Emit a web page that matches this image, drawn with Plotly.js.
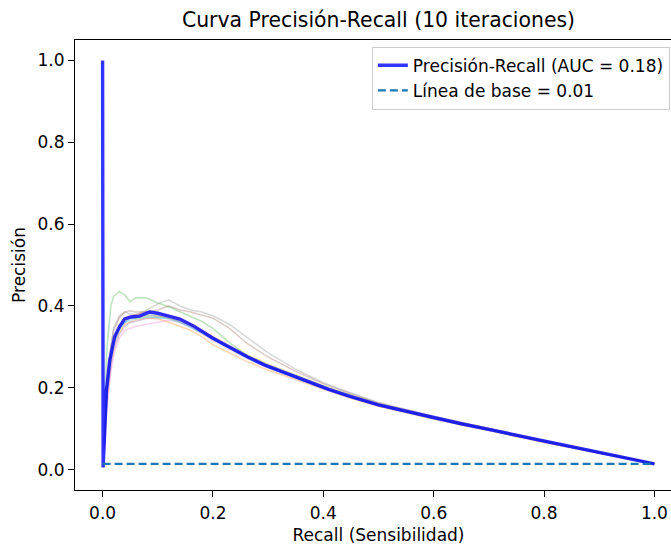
<!DOCTYPE html>
<html>
<head>
<meta charset="utf-8">
<script src="https://cdn.plot.ly/plotly-3.0.1.min.js"></script>
<style>
html, body { margin: 0; padding: 0; overflow: hidden; background: #fff; }
#chart { width: 682px; height: 545px; }
</style>
</head>
<body>
<div id="chart"></div>
<script>
// ---- Data ----
const meanRecall = [0, 0.001, 0.004, 0.007, 0.013, 0.022, 0.031, 0.04, 0.052, 0.067, 0.085, 0.10, 0.12, 0.14, 0.166, 0.20, 0.233, 0.263, 0.293, 0.323, 0.353, 0.383, 0.41, 0.45, 0.5, 0.55, 0.6, 0.65, 0.7, 0.75, 0.8, 0.85, 0.9, 0.95, 1.0];
const meanPrecision = [1.0, 0.005, 0.1, 0.195, 0.268, 0.325, 0.35, 0.368, 0.373, 0.375, 0.385, 0.382, 0.375, 0.368, 0.35, 0.321, 0.297, 0.275, 0.256, 0.24, 0.224, 0.21, 0.196, 0.178, 0.158, 0.142, 0.126, 0.112, 0.098, 0.084, 0.068, 0.055, 0.041, 0.028, 0.014];

const iterRecall = [0.003, 0.008, 0.015, 0.02, 0.03, 0.04, 0.05, 0.06, 0.08, 0.10, 0.12, 0.14, 0.16, 0.18, 0.20, 0.23, 0.26, 0.30, 0.35, 0.40, 0.45, 0.50, 0.60, 0.70, 0.80, 0.90, 1.0];
const iter0 = [0.06,0.19,0.27,0.31,0.345,0.36,0.37,0.372,0.378,0.376,0.372,0.362,0.35,0.335,0.318,0.297,0.276,0.25,0.225,0.199,0.177,0.157,0.125,0.097,0.068,0.041,0.014];
const iter1 = [0.05,0.18,0.26,0.30,0.335,0.355,0.36,0.365,0.37,0.368,0.36,0.35,0.34,0.325,0.305,0.285,0.265,0.243,0.22,0.196,0.174,0.155,0.123,0.095,0.066,0.040,0.014];
const iter2 = [0.15,0.30,0.40,0.423,0.435,0.427,0.41,0.42,0.419,0.407,0.398,0.386,0.375,0.362,0.345,0.31,0.28,0.255,0.228,0.202,0.18,0.16,0.127,0.099,0.069,0.042,0.014];
const iter3 = [0.07,0.20,0.28,0.32,0.35,0.37,0.375,0.378,0.385,0.383,0.376,0.37,0.356,0.34,0.322,0.30,0.278,0.253,0.226,0.20,0.178,0.158,0.126,0.098,0.068,0.041,0.014];
const iter4 = [0.05,0.17,0.25,0.29,0.33,0.35,0.36,0.362,0.37,0.372,0.37,0.362,0.35,0.336,0.32,0.298,0.277,0.251,0.225,0.199,0.177,0.157,0.125,0.097,0.067,0.041,0.014];
const iter5 = [0.08,0.22,0.30,0.34,0.37,0.385,0.388,0.385,0.386,0.39,0.40,0.39,0.385,0.378,0.37,0.345,0.31,0.275,0.24,0.21,0.185,0.162,0.129,0.1,0.07,0.043,0.014];
const iter6 = [0.04,0.15,0.24,0.28,0.32,0.34,0.345,0.35,0.355,0.36,0.365,0.36,0.348,0.332,0.315,0.294,0.273,0.248,0.222,0.197,0.175,0.156,0.124,0.096,0.067,0.040,0.014];
const iter7 = [0.07,0.21,0.30,0.345,0.375,0.385,0.38,0.378,0.39,0.405,0.415,0.40,0.39,0.385,0.376,0.355,0.325,0.285,0.245,0.212,0.187,0.164,0.13,0.101,0.071,0.044,0.014];
const iter8 = [0.06,0.20,0.28,0.315,0.345,0.365,0.37,0.37,0.375,0.375,0.37,0.365,0.355,0.34,0.325,0.302,0.282,0.258,0.232,0.205,0.182,0.161,0.128,0.1,0.07,0.042,0.014];
const iter9 = [0.06,0.19,0.27,0.31,0.34,0.36,0.365,0.368,0.373,0.372,0.368,0.36,0.348,0.334,0.318,0.296,0.275,0.25,0.224,0.198,0.176,0.156,0.124,0.096,0.067,0.040,0.014];
const iterations = [iter0, iter1, iter2, iter3, iter4, iter5, iter6, iter7, iter8, iter9];

const baselineX = [0, 1];
const baselineY = [0.014, 0.014];

const tickVals = [0, 0.2, 0.4, 0.6, 0.8, 1.0];
const tickText = ["0.0", "0.2", "0.4", "0.6", "0.8", "1.0"];

const titleText = "Curva Precisión-Recall (10 iteraciones)";
const xTitle = "Recall (Sensibilidad)";
const yTitle = "Precisión";
const meanName = "Precisión-Recall (AUC = 0.18)";
const baseName = "Línea de base = 0.01";

const iterColors = ["#1f77b4", "#ff7f0e", "#2ca02c", "#d62728", "#9467bd", "#8c564b", "#e377c2", "#7f7f7f", "#bcbd22", "#17becf"];

// ---- Traces ----
const traces = iterations.map((vals, i) => ({
  x: iterRecall, y: vals, type: "scatter", mode: "lines",
  line: { color: iterColors[i], width: 1.6 }, opacity: 0.3,
  showlegend: false, hoverinfo: "skip"
}));
traces.push({
  x: meanRecall, y: meanPrecision, type: "scatter", mode: "lines",
  name: meanName,
  line: { color: "rgba(0,0,255,0.8)", width: 3.4 }
});
traces.push({
  x: baselineX, y: baselineY, type: "scatter", mode: "lines",
  name: baseName,
  line: { color: "#1f77b4", width: 2.2, dash: "8px,4px" }
});

const font = { family: "DejaVu Sans, sans-serif", size: 17, color: "#000" };

const axisCommon = {
  showgrid: false, zeroline: false, showline: true, mirror: true,
  linecolor: "#000", linewidth: 1,
  ticks: "outside", ticklen: 6, tickwidth: 1, tickcolor: "#000",
  tickfont: font, tickmode: "array", tickvals: tickVals, ticktext: tickText
};

const layout = {
  width: 682, height: 545,
  margin: { l: 75, r: 0, t: 39.5, b: 54.5 },
  paper_bgcolor: "#fff", plot_bgcolor: "#fff",
  font: font,
  title: { text: titleText, font: { family: "DejaVu Sans, sans-serif", size: 20.4, color: "#000" },
           x: 0.5, xref: "paper", y: 1 - 20 / 545, yref: "container", yanchor: "middle" },
  xaxis: Object.assign({}, axisCommon, { range: [-0.05, 1.05], ticklabelstandoff: 2,
    title: { text: xTitle, font: font, standoff: 7 } }),
  yaxis: Object.assign({}, axisCommon, { range: [-0.05, 1.05],
    title: { text: yTitle, font: font, standoff: 7 } }),
  showlegend: true,
  legend: {
    x: 0.98, xanchor: "right", y: 0.985, yanchor: "top",
    bgcolor: "rgba(255,255,255,0.8)", bordercolor: "#cccccc", borderwidth: 1,
    font: font, tracegroupgap: 0
  }
};

Plotly.newPlot("chart", traces, layout, { displayModeBar: false, responsive: false, staticPlot: true });
</script>
</body>
</html>
